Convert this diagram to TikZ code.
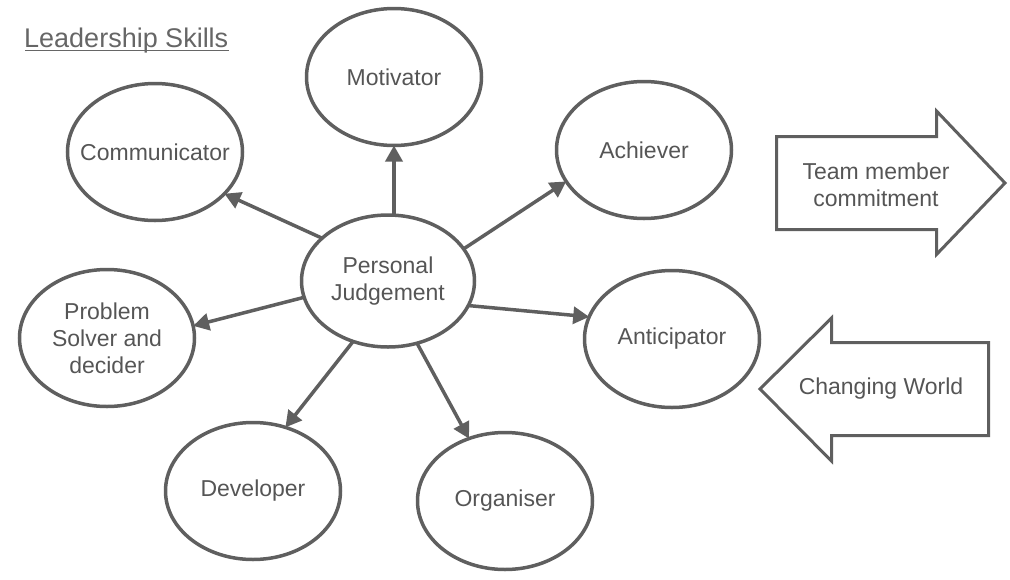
\documentclass[tikz,border=0pt]{standalone}
\usepackage{fontspec}
\setmainfont{Liberation Sans}
\usetikzlibrary{arrows.meta,shapes.geometric}
\definecolor{ln}{HTML}{5F5F5F}
\definecolor{tx}{HTML}{555555}
\definecolor{tt}{HTML}{666666}
\begin{document}
\begin{tikzpicture}[x=1pt,y=-1pt,
  ell/.style={ellipse,draw=ln,line width=3.5pt,minimum width=175pt,minimum height=137pt,
    inner xsep=-30pt,inner ysep=0pt,outer sep=0pt,text=tx,font=\fontsize{23}{27}\selectfont,align=center},
  arr/.style={draw=ln,line width=3.5pt,-{Triangle[length=16pt,width=17pt]}},
  blk/.style={draw=ln,line width=3pt,line join=miter},
  lbl/.style={text=tx,font=\fontsize{23}{27}\selectfont,align=center,inner sep=0pt}]
\useasboundingbox (0,0) rectangle (1010,579);

\node[anchor=base west,inner sep=0pt,text=tt,font=\fontsize{27}{32}\selectfont] (title) at (24,47) {Leadership Skills};
\draw[tt,line width=1.8pt] ([yshift=-3.5pt,xshift=1pt]title.base west) -- ([yshift=-3.5pt]title.base east);

\node[ell,minimum width=173pt,minimum height=132pt] (pj) at (388,281) {Personal\\Judgement};
\node[ell] (mot) at (394,77) {Motivator};
\node[ell] (com) at (155,152) {Communicator};
\node[ell] (ach) at (644,150) {Achiever};
\node[ell] (ps) at (107,338) {Problem\\Solver and\\decider};
\node[ell] (ant) at (672,339) {Anticipator};
\node[ell] (dev) at (253,491) {Developer};
\node[ell] (org) at (505,501) {Organiser};

\draw[arr] (pj.147.6) -- (com.-31.6);
\draw[arr] (pj.north -| mot.south) -- (mot.south);
\draw[arr] (pj.23.6) -- (ach.202);
\draw[arr] (pj.-17.6) -- (ant.165.6);
\draw[arr] (pj.191.8) -- (ps.8.6);
\draw[arr] (pj.240.8) -- (dev.63.8);
\draw[arr] (pj.295.2) -- (org.120.3);

\draw[blk] (776.5,136.5) -- (936.5,136.5) -- (936.5,111) -- (1005,183) -- (936.5,254.5) -- (936.5,229.5) -- (776.5,229.5) -- cycle;
\node[lbl] (team) at (876,185) {Team member\\commitment};

\draw[blk] (760,389) -- (831.5,318) -- (831.5,342.5) -- (988.5,342.5) -- (988.5,435.5) -- (831.5,435.5) -- (831.5,461) -- cycle;
\node[lbl] (cw) at (881,389) {Changing World};
\end{tikzpicture}
\end{document}
